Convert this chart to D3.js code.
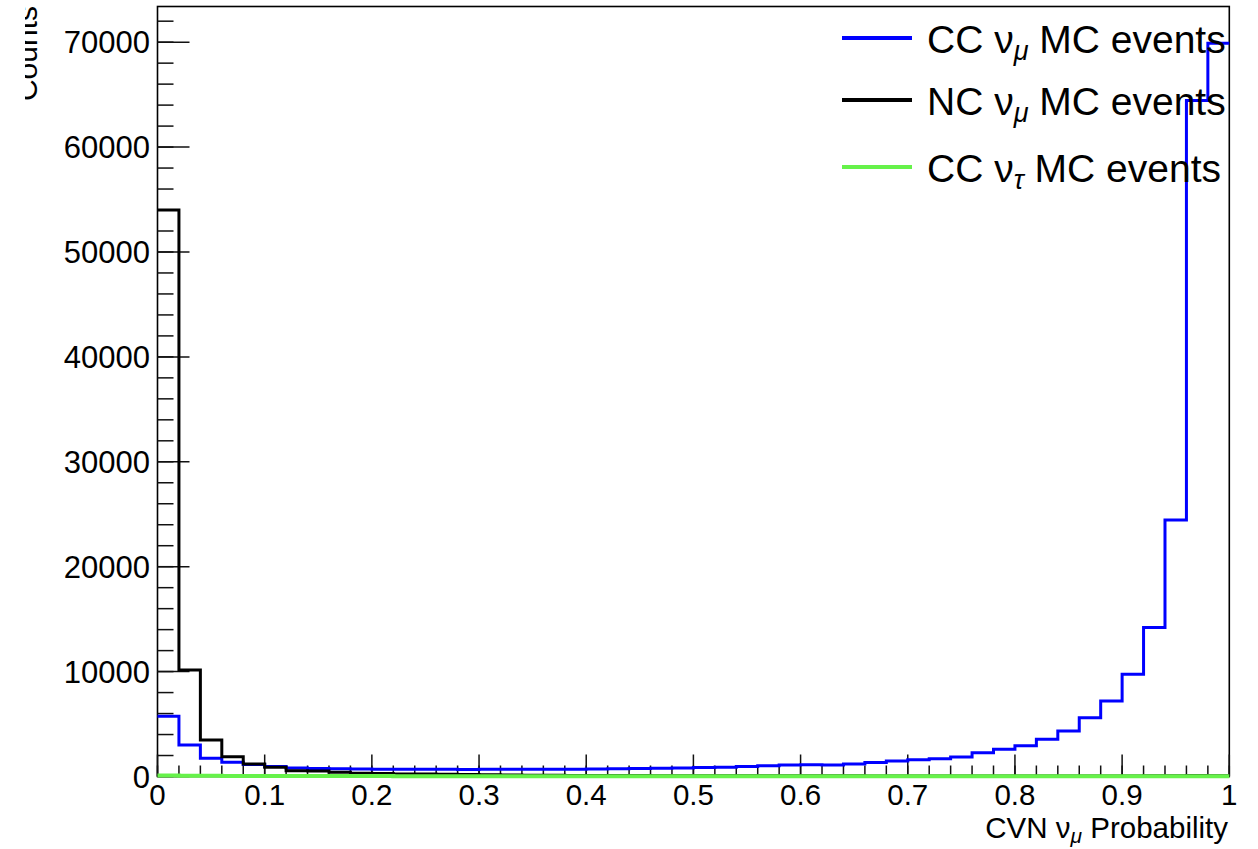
<!DOCTYPE html>
<html>
<head>
<meta charset="utf-8">
<script src="https://cdn.jsdelivr.net/npm/d3@7"></script>
<style>
  html, body { margin: 0; padding: 0; background: #fff; }
  svg { display: block; }
  text { font-family: "Liberation Sans", Arial, Helvetica, sans-serif; fill: #000; }
</style>
</head>
<body>
<svg id="chart" width="1258" height="849"></svg>
<script>
// Bin lower edges run 0.00, 0.02, ... 0.98 (50 bins of width 0.02)
const binWidth = 0.02;

// CC numu MC events per bin
const ccNumu = [
  5750, 3000, 1750, 1350, 1150, 950, 800, 770, 740, 720,
  700, 690, 680, 680, 675, 680, 680, 685, 690, 695,
  710, 730, 760, 790, 820, 860, 880, 950, 1020, 1100,
  1130, 1090, 1200, 1330, 1470, 1600, 1700, 1860, 2270, 2590,
  2940, 3550, 4340, 5600, 7200, 9740, 14200, 24450, 64450, 69900
];

// NC numu MC events per bin
const ncNumu = [
  54000, 10150, 3480, 1880, 1200, 880, 560, 520, 400, 320,
  280, 250, 230, 210, 190, 170, 150, 130, 115, 100,
  95, 90, 85, 80, 78, 75, 72, 70, 68, 66,
  64, 62, 60, 58, 56, 55, 54, 53, 52, 51,
  50, 50, 50, 52, 55, 58, 62, 70, 90, 80
];

// CC nutau MC events per bin
const ccNutau = [
  90, 70, 60, 55, 50, 48, 45, 42, 40, 38,
  36, 35, 34, 33, 32, 31, 30, 30, 29, 28,
  28, 27, 26, 26, 25, 25, 24, 24, 23, 23,
  22, 22, 21, 21, 20, 20, 20, 19, 19, 18,
  18, 18, 17, 17, 16, 16, 15, 15, 14, 14
];

const xTicks = [0, 0.1, 0.2, 0.3, 0.4, 0.5, 0.6, 0.7, 0.8, 0.9, 1];
const yTicks = [0, 10000, 20000, 30000, 40000, 50000, 60000, 70000];

const series = [
  { name: "CC", flavour: "ν", sub: "μ", values: ccNumu, color: "#0000ff", width: 3 },
  { name: "NC", flavour: "ν", sub: "μ", values: ncNumu, color: "#000000", width: 3 },
  { name: "CC", flavour: "ν", sub: "τ", values: ccNutau, color: "#66f24a", width: 4 }
];

const svg = d3.select("#chart");
const frame = { left: 157.5, right: 1229.3, top: 6.5, bottom: 776.5 };

const x = d3.scaleLinear().domain([0, 1]).range([frame.left, frame.right]);
const y = d3.scaleLinear().domain([0, 73400]).range([frame.bottom, frame.top]);

// Plot frame
svg.append("rect")
  .attr("x", frame.left).attr("y", frame.top)
  .attr("width", frame.right - frame.left)
  .attr("height", frame.bottom - frame.top)
  .attr("fill", "none").attr("stroke", "#000").attr("stroke-width", 1.6);

// X axis: major ticks every 0.1, minor every 0.02, drawn inward
const xAxis = svg.append("g").attr("class", "x-axis");
const xMinor = d3.range(0, 51).map(i => i * binWidth);
xAxis.selectAll("line.minor").data(xMinor).join("line")
  .attr("x1", d => x(d)).attr("x2", d => x(d))
  .attr("y1", frame.bottom).attr("y2", frame.bottom - 11)
  .attr("stroke", "#111").attr("stroke-width", 1.5);
xAxis.selectAll("line.major").data(xTicks).join("line")
  .attr("x1", d => x(d)).attr("x2", d => x(d))
  .attr("y1", frame.bottom).attr("y2", frame.bottom - 22)
  .attr("stroke", "#111").attr("stroke-width", 1.5);
xAxis.selectAll("text").data(xTicks).join("text")
  .attr("x", d => x(d)).attr("y", 805)
  .attr("text-anchor", "middle")
  .attr("font-size", 29.5)
  .text(d => d3.format("~g")(d));

// Y axis: major ticks every 10000, minor every 2000, drawn inward
const yAxis = svg.append("g").attr("class", "y-axis");
const yMinor = d3.range(0, 73000, 2000);
yAxis.selectAll("line.minor").data(yMinor).join("line")
  .attr("x1", frame.left).attr("x2", frame.left + 16)
  .attr("y1", d => y(d)).attr("y2", d => y(d))
  .attr("stroke", "#111").attr("stroke-width", 1.5);
yAxis.selectAll("line.major").data(yTicks).join("line")
  .attr("x1", frame.left).attr("x2", frame.left + 32)
  .attr("y1", d => y(d)).attr("y2", d => y(d))
  .attr("stroke", "#111").attr("stroke-width", 1.5);
yAxis.selectAll("text").data(yTicks).join("text")
  .attr("x", 150).attr("y", d => y(d))
  .attr("dy", "0.36em")
  .attr("text-anchor", "end")
  .attr("font-size", 31)
  .text(d => d3.format("d")(d));

// Histogram outlines: step line across the bins, no closing edges at the ends
function stepPoints(values) {
  const pts = [];
  values.forEach((v, i) => {
    pts.push([i * binWidth, v]);
    pts.push([(i + 1) * binWidth, v]);
  });
  return pts;
}
const line = d3.line().x(d => x(d[0])).y(d => y(d[1]));

const plot = svg.append("g");
series.forEach(s => {
  plot.append("path")
    .attr("d", line(stepPoints(s.values)))
    .attr("fill", "none")
    .attr("stroke", s.color)
    .attr("stroke-width", s.width)
    .attr("stroke-linejoin", "miter");
});

// Axis titles
const xTitle = svg.append("text")
  .attr("x", 1228).attr("y", 838)
  .attr("text-anchor", "end")
  .attr("font-size", 29.5);
xTitle.append("tspan").text("CVN ν");
xTitle.append("tspan").attr("font-size", 21).attr("font-style", "italic").attr("dy", 5).text("μ");
xTitle.append("tspan").attr("dy", -5).text(" Probability");

svg.append("clipPath").attr("id", "ytitle-clip")
  .append("rect").attr("x", 25).attr("y", 0).attr("width", 40).attr("height", 200);
svg.append("g").attr("clip-path", "url(#ytitle-clip)")
  .append("text")
  .attr("transform", "translate(37,6) rotate(-90)")
  .attr("text-anchor", "end")
  .attr("font-size", 30)
  .text("Counts");

// Legend
const legendLineY = [38, 100, 167];
const legend = svg.append("g").attr("class", "legend");
series.forEach((s, i) => {
  const ly = legendLineY[i];
  legend.append("line")
    .attr("x1", 842).attr("x2", 912)
    .attr("y1", ly).attr("y2", ly)
    .attr("stroke", s.color).attr("stroke-width", 4);
  const t = legend.append("text")
    .attr("x", 927).attr("y", ly + 15)
    .attr("font-size", 39);
  t.append("tspan").text(s.name + " " + s.flavour);
  t.append("tspan").attr("font-size", 27).attr("font-style", "italic").attr("dy", 7).text(s.sub);
  t.append("tspan").attr("dy", -7).text(" MC events");
});
</script>
</body>
</html>
